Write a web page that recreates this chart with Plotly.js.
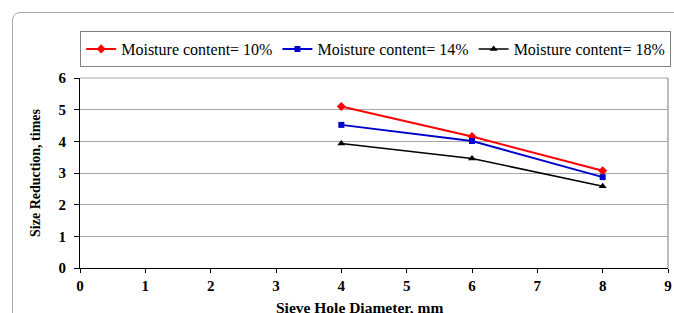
<!DOCTYPE html>
<html><head><meta charset="utf-8">
<script src="https://cdn.plot.ly/plotly-3.0.1.min.js"></script>
<style>
html,body{margin:0;padding:0;background:#fff;}
#wrap{position:relative;width:674px;height:313px;overflow:hidden;}
#frame{position:absolute;left:12px;top:12px;width:700px;height:340px;border:1.5px solid #a8a8a8;border-radius:8px;box-sizing:border-box;}
#chart{position:absolute;left:0;top:0;width:674px;height:313px;}
</style></head>
<body><div id="wrap"><div id="frame"></div><div id="chart"></div></div>
<script>
const sieveDiameter = [4, 6, 8];
const moisture10 = [5.10, 4.15, 3.07];
const moisture14 = [4.52, 4.01, 2.87];
const moisture18 = [3.93, 3.46, 2.58];
const seriesNames = ["Moisture content= 10%", "Moisture content= 14%", "Moisture content= 18%"];

const font = "'Liberation Serif', 'Times New Roman', serif";
const traces = [
  {x: sieveDiameter, y: moisture10, name: seriesNames[0], mode: "lines+markers",
   line: {color: "#ff0000", width: 2}, marker: {symbol: "diamond", size: 7, color: "#ff0000"}},
  {x: sieveDiameter, y: moisture14, name: seriesNames[1], mode: "lines+markers",
   line: {color: "#0000cc", width: 2}, marker: {symbol: "square", size: 6, color: "#0000cc"}},
  {x: sieveDiameter, y: moisture18, name: seriesNames[2], mode: "lines+markers",
   line: {color: "#000000", width: 1.5}, marker: {symbol: "triangle-up", size: 7, color: "#000000"}}
];
const layout = {
  width: 674, height: 313,
  margin: {l: 80, r: 6, t: 78, b: 45},
  paper_bgcolor: "rgba(0,0,0,0)", plot_bgcolor: "#fff",
  font: {family: font, color: "#000", size: 15},
  showlegend: true,
  legend: {orientation: "h", x: 0.119, xanchor: "left", y: 0.901, yanchor: "top",
           xref: "container", yref: "container",
           bgcolor: "#fff", bordercolor: "#808080", borderwidth: 1,
           font: {family: font, size: 16}, itemwidth: 30, tracegroupgap: 0},
  xaxis: {range: [0, 9], dtick: 1, tick0: 0, showgrid: false, zeroline: false,
          showline: true, linecolor: "#000", linewidth: 1, mirror: false,
          ticks: "outside", ticklen: 4, tickcolor: "#000",
          tickfont: {family: font, size: 15, weight: "bold"}},
  yaxis: {range: [0, 6], dtick: 1, tick0: 0, showgrid: true, gridcolor: "#a6a6a6", gridwidth: 1,
          zeroline: false, showline: true, linecolor: "#000", linewidth: 1,
          ticks: "outside", ticklen: 5, tickcolor: "#000", ticklabelstandoff: 5,
          tickfont: {family: font, size: 15, weight: "bold"},
          title: {text: "Size Reduction, times", font: {family: font, size: 14, weight: "bold"}, standoff: 14}},
  shapes: [
    {type: "line", xref: "paper", yref: "paper", x0: 1, x1: 1, y0: 0, y1: 1, line: {color: "#a6a6a6", width: 1.5}},
    {type: "line", xref: "paper", yref: "paper", x0: 0, x1: 1, y0: 1, y1: 1, line: {color: "#a6a6a6", width: 1}}
  ],
  annotations: [
    {text: "<b>Sieve Hole Diameter, mm</b>", xref: "paper", yref: "paper", x: 0.475, y: -0.155,
     xanchor: "center", yanchor: "top", showarrow: false, font: {family: font, size: 15.5}}
  ]
};
Plotly.newPlot("chart", traces, layout, {displayModeBar: false, staticPlot: true});
</script></body></html>
